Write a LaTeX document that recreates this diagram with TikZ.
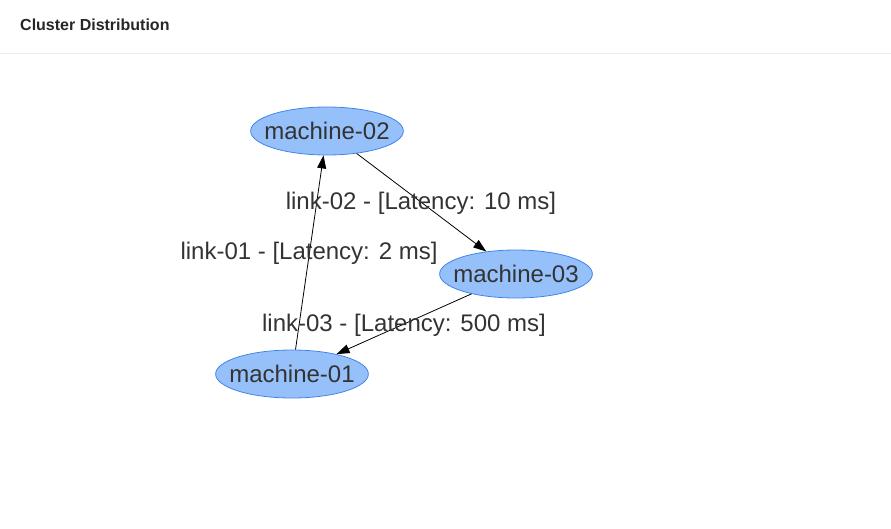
\documentclass[tikz,border=0pt]{standalone}
\usepackage{fontspec}
\setmainfont{Liberation Sans}
\usetikzlibrary{arrows.meta,shapes.geometric}
\definecolor{machinefill}{RGB}{150,192,250}
\definecolor{machineline}{RGB}{66,133,234}
\definecolor{labeltext}{RGB}{51,51,51}
\begin{document}
\begin{tikzpicture}[x=1pt,y=-1pt,
    machine/.style={ellipse,draw=machineline,fill=machinefill,line width=0.8pt,
      minimum height=48pt,inner xsep=-8.7pt,inner ysep=0pt,
      text=labeltext,font=\fontsize{24}{27}\selectfont},
    link/.style={draw=black,line width=0.8pt,-{Triangle[length=13pt,width=9pt]}},
    linklabel/.style={text=labeltext,font=\fontsize{24}{27}\selectfont,inner sep=0pt}]
    \useasboundingbox (0,0) rectangle (891,528);
    \node[anchor=west,inner sep=0pt,font=\bfseries\fontsize{16}{19}\selectfont,text=black!85] (title) at (20,25) {Cluster Distribution};
    \draw[black!7,line width=1pt] (0,53) -- (891,53);
    \node[machine] (m02) at (327,131) {machine-02};
    \node[machine] (m03) at (516,274) {machine-03};
    \node[machine] (m01) at (292,374) {machine-01};
    \draw[link] (m01) -- (m02);
    \draw[link] (m02) -- (m03);
    \draw[link] (m03) -- (m01);
    \node[linklabel] (l01) at (309,253) {link-01 - [Latency: 2 ms]};
    \node[linklabel] (l02) at (421,203) {link-02 - [Latency: 10 ms]};
    \node[linklabel] (l03) at (404,325) {link-03 - [Latency: 500 ms]};
  \end{tikzpicture}
\end{document}
